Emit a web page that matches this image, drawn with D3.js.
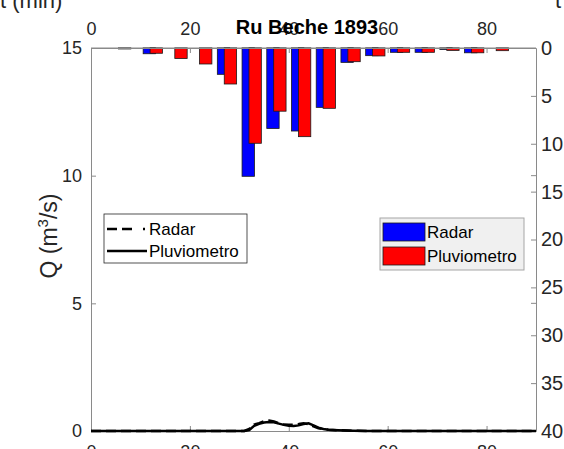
<!DOCTYPE html>
<html>
<head>
<meta charset="utf-8">
<script src="https://cdn.jsdelivr.net/npm/d3@7"></script>
<style>
  body { margin: 0; background: #fff; }
  svg { display: block; font-family: "Liberation Sans", Arial, sans-serif; }
</style>
</head>
<body>
<svg id="chart"></svg>
<script>
var width = 564;
var height = 449;

// rain bars (top axis, mm) every 5 minutes
var barTimes   = [5, 10, 15, 20, 25, 30, 35, 40, 45, 50, 55, 60, 65, 70, 75, 80];
var radarRain  = [0.1, 0.6, 0, 0, 2.75, 13.4, 8.4, 8.67, 6.2, 1.5, 0.8, 0.45, 0.45, 0.15, 0.5, 0];
var pluvioRain = [0, 0.55, 1.1, 1.67, 3.76, 9.95, 6.6, 9.26, 6.3, 1.43, 0.83, 0.45, 0.45, 0.25, 0.5, 0.28];

// discharge lines (left axis)
var lineTimes = [0, 31, 32, 33, 34, 35, 36, 37, 38, 39, 40, 41, 42, 43, 44, 45, 46, 47, 48, 50, 53, 56, 90];
var radarQ    = [0, 0, 0.08, 0.25, 0.31, 0.38, 0.41, 0.37, 0.3, 0.25, 0.24, 0.25, 0.27, 0.3, 0.27, 0.18, 0.11, 0.07, 0.05, 0.03, 0.01, 0, 0];
var pluvioQ   = [0, 0, 0.04, 0.2, 0.28, 0.33, 0.35, 0.34, 0.29, 0.24, 0.21, 0.2, 0.22, 0.27, 0.3, 0.22, 0.13, 0.08, 0.05, 0.03, 0.01, 0, 0];

var xTicks = [0, 20, 40, 60, 80];
var leftTicks = [0, 5, 10, 15];
var rightTicks = [0, 5, 10, 15, 20, 25, 30, 35, 40];

var pLeft = 91, pRight = 536, pTop = 48, pBottom = 431;

var x = d3.scaleLinear().domain([0, 90]).range([pLeft, pRight]);
var yQ = d3.scaleLinear().domain([0, 15]).range([pBottom, pTop]);
var yR = d3.scaleLinear().domain([0, 40]).range([pTop, pBottom]);

var svg = d3.select("#chart")
    .attr("width", width)
    .attr("height", height);

svg.append("rect").attr("width", width).attr("height", height).attr("fill", "#fff");

var axisColor = "#8a8a8a";
var textColor = "#262626";

function styleAxis(g, size) {
  g.attr("font-size", size || 18).attr("font-family", "Liberation Sans, Arial, sans-serif");
  g.select(".domain").attr("stroke", axisColor);
  g.selectAll(".tick line").attr("stroke", axisColor);
  g.selectAll(".tick text").attr("fill", textColor);
}

// top border
svg.append("line")
    .attr("x1", pLeft).attr("x2", pRight).attr("y1", pTop).attr("y2", pTop)
    .attr("stroke", axisColor);

// bars: blue drawn first, red on top
var bw = x(2.5) - x(0);
svg.append("g").selectAll("rect")
    .data(barTimes)
    .enter()
    .append("rect")
    .attr("x", function(d){ return x(d + 1.8) - bw / 2; })
    .attr("y", pTop)
    .attr("width", bw)
    .attr("height", function(d, i){ return yR(radarRain[i]) - pTop; })
    .attr("fill", "#0000ff")
    .attr("stroke", "#1a1a1a")
    .attr("stroke-width", 0.8);

svg.append("g").selectAll("rect")
    .data(barTimes)
    .enter()
    .append("rect")
    .attr("x", function(d){ return x(d + 3.2) - bw / 2; })
    .attr("y", pTop)
    .attr("width", bw)
    .attr("height", function(d, i){ return yR(pluvioRain[i]) - pTop; })
    .attr("fill", "#ff0000")
    .attr("stroke", "#1a1a1a")
    .attr("stroke-width", 0.8);

// axes
svg.append("g")
    .attr("transform", "translate(" + pLeft + ",0)")
    .call(d3.axisLeft(yQ).tickValues(leftTicks).tickSizeInner(-5).tickSizeOuter(0).tickPadding(9))
    .call(styleAxis, 18);

svg.append("g")
    .attr("transform", "translate(" + pRight + ",0)")
    .call(d3.axisRight(yR).tickValues(rightTicks).tickSizeInner(-5).tickSizeOuter(0).tickPadding(5))
    .call(styleAxis, 20);

// mirrored left ticks on the right side
svg.append("g").selectAll("line")
    .data([5, 10])
    .enter()
    .append("line")
    .attr("x1", pRight).attr("x2", pRight - 5)
    .attr("y1", function(d){ return yQ(d); })
    .attr("y2", function(d){ return yQ(d); })
    .attr("stroke", axisColor);

svg.append("g")
    .attr("transform", "translate(0," + pBottom + ")")
    .call(d3.axisBottom(x).tickValues(xTicks).tickSizeInner(-5).tickSizeOuter(0).tickPadding(14))
    .call(styleAxis, 18);

svg.append("g")
    .attr("transform", "translate(0," + pTop + ")")
    .call(d3.axisTop(x).tickValues(xTicks).tickSizeInner(-5).tickSizeOuter(0).tickPadding(13))
    .call(styleAxis, 18);

// lines
var lineQ = d3.line()
    .x(function(d, i){ return x(lineTimes[i]); })
    .y(function(d){ return yQ(d); });

svg.append("path")
    .attr("d", lineQ(pluvioQ))
    .attr("fill", "none")
    .attr("stroke", "#000")
    .attr("stroke-width", 2.5);

svg.append("path")
    .attr("d", lineQ(radarQ))
    .attr("fill", "none")
    .attr("stroke", "#000")
    .attr("stroke-width", 2.5)
    .attr("stroke-dasharray", "10,5");

// title
svg.append("text")
    .attr("x", 307).attr("y", 34)
    .attr("text-anchor", "middle")
    .attr("font-size", 20)
    .attr("font-weight", "bold")
    .attr("fill", "#000")
    .text("Ru Beche 1893");

// labels
svg.append("text")
    .attr("transform", "translate(57,236) rotate(-90)")
    .attr("text-anchor", "middle")
    .attr("font-size", 23)
    .attr("fill", textColor)
    .html('Q (m<tspan dy="-9" font-size="15">3</tspan><tspan dy="9">/s)</tspan>');

svg.append("text")
    .attr("x", 0).attr("y", 8)
    .attr("font-size", 22)
    .attr("fill", textColor)
    .text("t (min)");

svg.append("text")
    .attr("x", 555).attr("y", 8)
    .attr("font-size", 22)
    .attr("fill", textColor)
    .text("t (min)");

// line legend
var lg = svg.append("g");
lg.append("rect")
    .attr("x", 104).attr("y", 214).attr("width", 143).attr("height", 49)
    .attr("fill", "#fff").attr("stroke", "#262626").attr("stroke-width", 0.8);
lg.append("line")
    .attr("x1", 107).attr("x2", 145).attr("y1", 229).attr("y2", 229)
    .attr("stroke", "#000").attr("stroke-width", 2.5)
    .attr("stroke-dasharray", "10,5,10,11,2,20");
lg.append("line")
    .attr("x1", 107).attr("x2", 147).attr("y1", 251).attr("y2", 251)
    .attr("stroke", "#000").attr("stroke-width", 2.5);
lg.selectAll("text")
    .data(["Radar", "Pluviometro"])
    .enter()
    .append("text")
    .attr("x", 149)
    .attr("y", function(d, i){ return 235 + i * 22; })
    .attr("font-size", 17)
    .attr("fill", "#000")
    .text(function(d){ return d; });

// bar legend
var bg = svg.append("g");
bg.append("rect")
    .attr("x", 380).attr("y", 218).attr("width", 144).attr("height", 52)
    .attr("fill", "#f0f0f0").attr("stroke", "#a6a6a6").attr("stroke-width", 1);
bg.selectAll(".patch")
    .data(["#0000ff", "#ff0000"])
    .enter()
    .append("rect")
    .attr("class", "patch")
    .attr("x", 383)
    .attr("y", function(d, i){ return 223 + i * 24; })
    .attr("width", 42).attr("height", 18)
    .attr("fill", function(d){ return d; })
    .attr("stroke", "#1a1a1a").attr("stroke-width", 0.8);
bg.selectAll("text")
    .data(["Radar", "Pluviometro"])
    .enter()
    .append("text")
    .attr("x", 427)
    .attr("y", function(d, i){ return 238 + i * 24; })
    .attr("font-size", 17)
    .attr("fill", "#000")
    .text(function(d){ return d; });
</script>
</body>
</html>
